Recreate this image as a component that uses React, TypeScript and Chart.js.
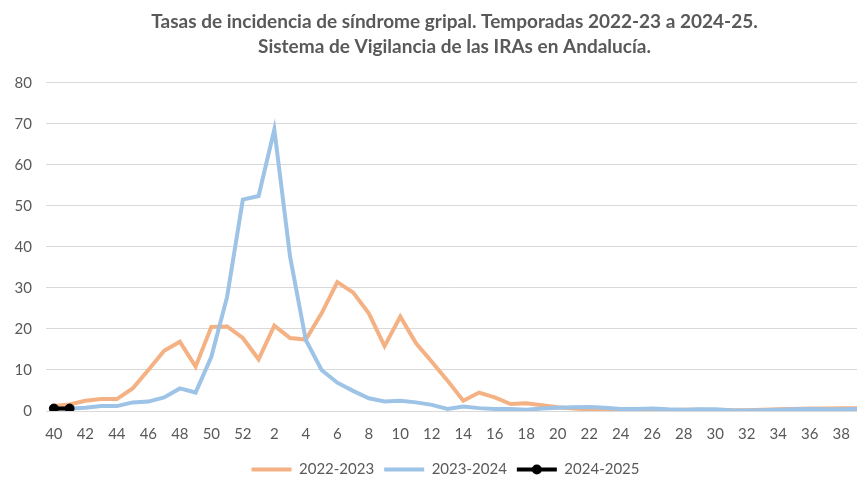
import React, { useEffect, useRef } from 'react';
import { Chart, registerables } from 'chart.js';

Chart.register(...registerables);

const weeks: string[] = [
  '40', '41', '42', '43', '44', '45', '46', '47', '48', '49', '50', '51', '52',
  '1', '2', '3', '4', '5', '6', '7', '8', '9', '10', '11', '12', '13', '14', '15', '16', '17', '18', '19', '20',
  '21', '22', '23', '24', '25', '26', '27', '28', '29', '30', '31', '32', '33', '34', '35', '36', '37', '38', '39',
];

const season2022_23: number[] = [
  1.2, 1.6, 2.5, 2.9, 2.9, 5.5, 10.0, 14.7, 16.9, 10.8, 20.5, 20.6, 17.8,
  12.6, 20.8, 17.8, 17.4, 23.8, 31.4, 28.9, 23.8, 15.8, 23.0, 16.5, 12.0, 7.4, 2.5, 4.5, 3.3, 1.7, 1.9, 1.4, 0.9,
  0.6, 0.4, 0.3, 0.2, 0.2, 0.2, 0.2, 0.3, 0.3, 0.2, 0.2, 0.2, 0.3, 0.4, 0.5, 0.6, 0.6, 0.7, 0.7,
];

const season2023_24: number[] = [
  0.5, 0.6, 0.8, 1.2, 1.2, 2.1, 2.3, 3.3, 5.5, 4.5, 13.2, 27.8, 51.5,
  52.4, 68.6, 37.6, 17.3, 10.0, 6.9, 4.9, 3.1, 2.3, 2.5, 2.1, 1.5, 0.5, 1.1, 0.7, 0.5, 0.5, 0.3, 0.6, 0.8,
  0.9, 1.0, 0.8, 0.5, 0.5, 0.6, 0.4, 0.3, 0.4, 0.4, 0.2, 0.1, 0.2, 0.3, 0.4, 0.5, 0.4, 0.4, 0.5,
];

const season2024_25: (number | null)[] = [0.6, 0.6];

const seriesLabels: string[] = ['2022-2023', '2023-2024', '2024-2025'];
const titleLines: string[] = [
  'Tasas de incidencia de síndrome gripal. Temporadas 2022-23 a 2024-25.',
  'Sistema de Vigilancia de las IRAs en Andalucía.',
];

const yMin = 0;
const yMax = 80;
const yStep = 10;

const FONT = 'Lato, "Liberation Sans", sans-serif';
const TEXT = '#595959';

export default function App() {
  const ref = useRef<HTMLCanvasElement>(null);

  useEffect(() => {
    if (!ref.current) return;

    const legendMarker = {
      id: 'legendMarker',
      afterLayout(chart: any) {
        const t = chart.titleBlock;
        if (t) {
          t.left += 14;
          t.right += 14;
        }
        const lg = chart.legend;
        if (lg) {
          lg.left += 5;
          lg.right += 5;
        }
      },
      afterDraw(chart: any) {
        const lg = chart.legend;
        if (!lg || !lg.legendHitBoxes || !lg.legendItems) return;
        const idx = lg.legendItems.findIndex((it: any) => it.datasetIndex === 2);
        const hb = lg.legendHitBoxes[idx];
        if (!hb) return;
        const ctx = chart.ctx;
        ctx.save();
        ctx.fillStyle = '#000';
        ctx.beginPath();
        ctx.arc(hb.left + 20, hb.top + hb.height / 2, 5, 0, Math.PI * 2);
        ctx.fill();
        ctx.restore();
      },
    };

    const chart = new Chart(ref.current, {
      type: 'line',
      data: {
        labels: weeks,
        datasets: [
          {
            label: seriesLabels[0],
            data: season2022_23,
            borderColor: '#F4B183',
            backgroundColor: '#F4B183',
            borderWidth: 4,
            pointRadius: 0,
            tension: 0,
            order: 3,
          },
          {
            label: seriesLabels[1],
            data: season2023_24,
            borderColor: '#9DC3E6',
            backgroundColor: '#9DC3E6',
            borderWidth: 4,
            pointRadius: 0,
            tension: 0,
            order: 2,
          },
          {
            label: seriesLabels[2],
            data: season2024_25,
            borderColor: '#000000',
            backgroundColor: '#000000',
            borderWidth: 4,
            pointRadius: 4.5,
            pointBackgroundColor: '#000000',
            pointBorderColor: '#000000',
            pointBorderWidth: 1,
            tension: 0,
            order: 1,
          },
        ],
      },
      options: {
        responsive: false,
        animation: false,
        devicePixelRatio: 1,
        layout: { padding: { left: 10, right: 0, top: 0, bottom: 0 } },
        plugins: {
          tooltip: { enabled: false },
          title: {
            display: true,
            text: titleLines,
            color: TEXT,
            font: { family: FONT, size: 19, weight: 'bold', lineHeight: 1.316 },
            padding: { top: 9.5, bottom: 23.2 },
          },
          legend: {
            position: 'bottom',
            labels: {
              usePointStyle: true,
              pointStyle: 'line',
              pointStyleWidth: 40,
              boxHeight: 15,
              padding: 10,
              color: TEXT,
              font: { family: FONT, size: 15 },
              sort: (a: any, b: any) => a.datasetIndex - b.datasetIndex,
              generateLabels: (c: any) =>
                (Chart.defaults.plugins.legend.labels.generateLabels as any)(c).map((it: any) => ({
                  ...it,
                  lineWidth: 4,
                })),
            },
          },
        },
        scales: {
          x: {
            type: 'category',
            offset: true,
            grid: { display: false, drawTicks: false },
            border: { display: false },
            ticks: {
              autoSkip: false,
              maxRotation: 0,
              padding: 14,
              color: TEXT,
              font: { family: FONT, size: 15 },
              callback: function (this: any, _v: any, index: number) {
                return index % 2 === 0 ? weeks[index] : '';
              },
            },
            afterFit: (scale: any) => {
              scale.height = 41;
            },
          },
          y: {
            min: yMin,
            max: yMax,
            grid: { color: '#D9D9D9', lineWidth: 1, drawTicks: false },
            border: { display: false },
            ticks: {
              stepSize: yStep,
              padding: 14,
              color: TEXT,
              font: { family: FONT, size: 15 },
            },
            afterFit: (scale: any) => {
              scale.width = 36;
            },
          },
        },
      },
      plugins: [legendMarker],
    });

    return () => chart.destroy();
  }, []);

  return (
    <div
      style={{
        position: 'fixed',
        left: 0,
        top: 0,
        width: 857,
        height: 477,
        overflow: 'hidden',
        background: '#ffffff',
      }}
    >
      <canvas ref={ref} width={871} height={487} style={{ display: 'block' }} />
    </div>
  );
}
